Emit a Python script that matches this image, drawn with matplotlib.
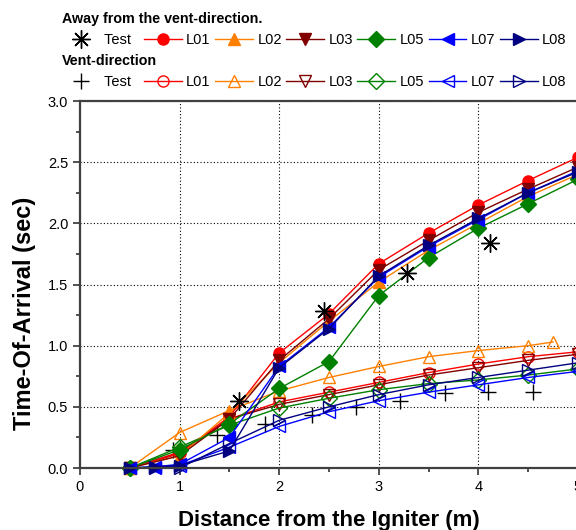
import matplotlib
matplotlib.use("Agg")
import matplotlib.pyplot as plt
from matplotlib.legend_handler import HandlerLine2D
from matplotlib.ticker import MultipleLocator, FormatStrFormatter

plt.rcParams['font.family'] = ['Liberation Sans', 'DejaVu Sans']

# ---------------- data ----------------
away_test_x = [1.6, 2.45, 3.28, 4.12]
away_test_y = [0.55, 1.28, 1.59, 1.84]

vent_test_x = [0.93, 1.38, 1.86, 2.33, 2.77, 3.21, 3.66, 4.10, 4.55]
vent_test_y = [0.15, 0.27, 0.36, 0.43, 0.50, 0.55, 0.61, 0.62, 0.62]

x_main = [0.5, 1.0, 1.5, 2.0, 2.5, 3.0, 3.5, 4.0, 4.5, 5.0]
x_fine = [0.5, 0.75, 1.0, 1.5, 2.0, 2.5, 3.0, 3.5, 4.0, 4.5, 5.0]
x_l02_vent = [0.5, 1.0, 1.5, 2.0, 2.5, 3.0, 3.5, 4.0, 4.5, 4.75]

away_L01 = [0.0, 0.12, 0.42, 0.94, 1.26, 1.67, 1.92, 2.15, 2.35, 2.54]
away_L02 = [0.0, 0.10, 0.45, 0.86, 1.20, 1.52, 1.78, 2.00, 2.22, 2.40]
away_L03 = [0.0, 0.10, 0.40, 0.88, 1.22, 1.62, 1.86, 2.09, 2.28, 2.46]
away_L05 = [0.0, 0.15, 0.36, 0.65, 0.87, 1.41, 1.72, 1.96, 2.16, 2.36]
away_L07 = [0.0, 0.01, 0.03, 0.25, 0.83, 1.15, 1.56, 1.81, 2.03, 2.25, 2.43]
away_L08 = [0.0, 0.01, 0.02, 0.14, 0.82, 1.14, 1.57, 1.82, 2.04, 2.25, 2.42]

vent_L01 = [0.0, 0.13, 0.40, 0.54, 0.62, 0.70, 0.78, 0.85, 0.91, 0.95]
vent_L02 = [0.0, 0.29, 0.47, 0.63, 0.74, 0.83, 0.91, 0.96, 1.00, 1.03]
vent_L03 = [0.0, 0.12, 0.40, 0.52, 0.60, 0.68, 0.76, 0.82, 0.88, 0.93]
vent_L05 = [0.0, 0.17, 0.35, 0.49, 0.57, 0.64, 0.69, 0.72, 0.76, 0.81]
vent_L07 = [0.0, 0.0, 0.02, 0.17, 0.34, 0.46, 0.55, 0.62, 0.68, 0.74, 0.79]
vent_L08 = [0.0, 0.0, 0.0, 0.20, 0.39, 0.50, 0.60, 0.68, 0.74, 0.80, 0.86]

labels = ['L01', 'L02', 'L03', 'L05', 'L07', 'L08']
colors = ['#FF0000', '#FF8000', '#800000', '#008000', '#0000FF', '#000080']
markers = ['o', '^', 'v', 'D', '<', '>']

# ---------------- figure ----------------
W, H = 576, 530
fig = plt.figure(figsize=(W / 100, H / 100), dpi=100)
ax = fig.add_axes([80 / W, 62 / H, 498 / W, 367 / H])

ms = 8
away_sets = [(x_main, away_L01), (x_main, away_L02), (x_main, away_L03),
             (x_main, away_L05), (x_fine, away_L07), (x_fine, away_L08)]
vent_sets = [(x_main, vent_L01), (x_l02_vent, vent_L02), (x_main, vent_L03),
             (x_main, vent_L05), (x_fine, vent_L07), (x_fine, vent_L08)]

vent_handles = []
h = ax.plot(vent_test_x, vent_test_y, linestyle='none', marker='+', color='black',
            markersize=12, markeredgewidth=1.0, clip_on=False)[0]
vent_handles.append(h)
for (xs, ys), lab, c, m in zip(vent_sets, labels, colors, markers):
    h = ax.plot(xs, ys, color=c, marker=m, markersize=ms, markerfacecolor='none',
                markeredgecolor=c, markeredgewidth=1.0, linewidth=1.0, clip_on=False)[0]
    vent_handles.append(h)

away_handles = []
for (xs, ys), lab, c, m in zip(away_sets, labels, colors, markers):
    h = ax.plot(xs, ys, color=c, marker=m, markersize=ms, markerfacecolor=c,
                markeredgecolor=c, linewidth=1.0, clip_on=False)[0]
    away_handles.append(h)
h = ax.plot(away_test_x, away_test_y, linestyle='none', marker=(8, 2, 0), color='black',
            markersize=13, markeredgewidth=1.0)[0]
away_handles.insert(0, h)

ax.set_xlim(0, 5)
ax.set_ylim(0, 3.0)
ax.xaxis.set_major_locator(MultipleLocator(1))
ax.xaxis.set_minor_locator(MultipleLocator(0.5))
ax.yaxis.set_major_locator(MultipleLocator(0.5))
ax.yaxis.set_minor_locator(MultipleLocator(0.25))
ax.yaxis.set_major_formatter(FormatStrFormatter('%.1f'))
ax.tick_params(which='major', direction='out', length=5, width=1.2, labelsize=10.5,
               colors='#333333', labelcolor='black')
ax.tick_params(which='minor', direction='out', length=3, width=1.2, colors='#333333')
ax.grid(True, which='major', linestyle=(0, (1, 2)), color='black', linewidth=0.8)
for s in ax.spines.values():
    s.set_color('#404040')
    s.set_linewidth(1.6)
ax.set_axisbelow(True)

ax.set_xlabel('Distance from the Igniter (m)', fontsize=16, fontweight='bold', labelpad=12)
ax.set_ylabel('Time-Of-Arrival (sec)', fontsize=17, fontweight='bold')
ax.yaxis.set_label_coords(-0.088, 0.42)


class ShiftMarkerHandler(HandlerLine2D):
    def create_artists(self, legend, orig_handle, xdescent, ydescent, width, height,
                       fontsize, trans):
        arts = super().create_artists(legend, orig_handle, xdescent, ydescent, width,
                                      height, fontsize, trans)
        for a in arts:
            xd = a.get_xdata()
            if len(xd) == 1:
                a.set_xdata([width * 0.62 - xdescent])
        return arts


leg_kw = dict(ncol=7, frameon=False, fontsize=10.5, handlelength=2.6, handletextpad=0.3,
              columnspacing=0.3, borderpad=0.0, borderaxespad=0.0, alignment='left',
              title_fontproperties={'weight': 'bold', 'size': 10.3}, loc='upper left')

leg1 = fig.legend(away_handles, ['Test  '] + labels, title='Away from the vent-direction.',
                  bbox_to_anchor=(62 / W, 1 - 12 / H),
                  handler_map={away_handles[0]: ShiftMarkerHandler()}, **leg_kw)
leg2 = fig.legend(vent_handles, ['Test  '] + labels, title='Vent-direction',
                  bbox_to_anchor=(62 / W, 1 - 54 / H),
                  handler_map={vent_handles[0]: ShiftMarkerHandler()}, **leg_kw)

fig.savefig('out.png', dpi=100)
